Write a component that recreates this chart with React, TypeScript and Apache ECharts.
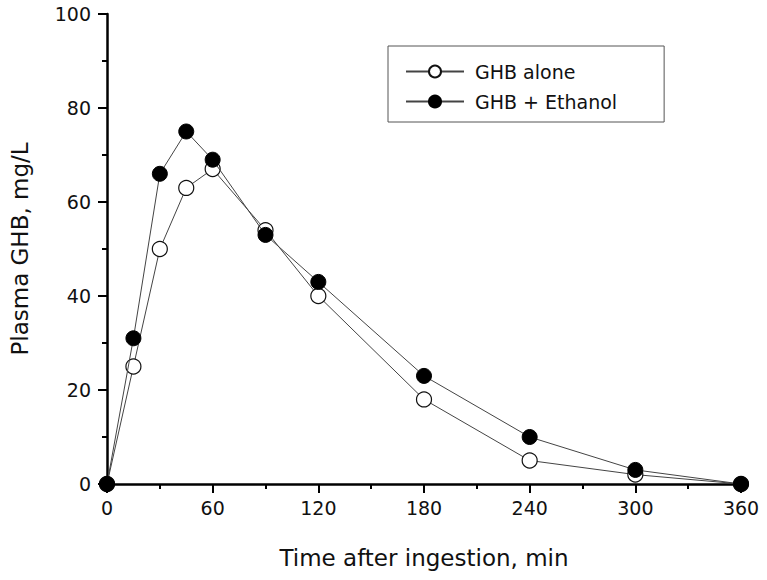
import React, { useEffect, useRef } from "react";
import * as echarts from "echarts";

const times = [0, 15, 30, 45, 60, 90, 120, 180, 240, 300, 360];
const ghbAlone = [0, 25, 50, 63, 67, 54, 40, 18, 5, 2, 0];
const ghbEthanol = [0, 31, 66, 75, 69, 53, 43, 23, 10, 3, 0];
const seriesNames = ["GHB alone", "GHB + Ethanol"];

const FONT = "'DejaVu Sans', sans-serif";

export default function App() {
  const ref = useRef<HTMLDivElement>(null);
  useEffect(() => {
    if (!ref.current) return;
    const chart = echarts.init(ref.current, undefined, { renderer: "svg" });
    const axisCommon = {
      axisLine: { show: true, lineStyle: { color: "#000", width: 2.5 } },
      axisTick: { show: true, inside: false, length: 9, lineStyle: { color: "#000", width: 2 } },
      minorTick: { show: true, splitNumber: 2, length: 5, lineStyle: { color: "#000", width: 2 } },
      splitLine: { show: false },
    };
    chart.setOption({
      animation: false,
      backgroundColor: "#fff",
      grid: { left: 107, right: 26, top: 14, bottom: 96, containLabel: false },
      legend: {
        left: 388,
        top: 46,
        orient: "vertical",
        itemWidth: 58,
        itemHeight: 15,
        itemGap: 11,
        padding: [16, 47, 11, 17],
        borderColor: "#555",
        borderWidth: 1,
        textStyle: { fontFamily: FONT, fontSize: 19, color: "#111", padding: [0, 0, 0, 6] },
        data: seriesNames,
      },
      xAxis: {
        type: "value",
        min: 0,
        max: 360,
        interval: 60,
        ...axisCommon,
        axisLabel: { fontFamily: FONT, fontSize: 19, color: "#111", margin: 14 },
        name: "Time after ingestion, min",
        nameLocation: "middle",
        nameGap: 62,
        nameTextStyle: { fontFamily: FONT, fontSize: 23, color: "#111" },
      },
      yAxis: {
        type: "value",
        min: 0,
        max: 100,
        interval: 20,
        ...axisCommon,
        axisLabel: { fontFamily: FONT, fontSize: 19, color: "#111", margin: 16 },
        name: "Plasma GHB, mg/L",
        nameLocation: "middle",
        nameGap: 76,
        nameTextStyle: { fontFamily: FONT, fontSize: 23, color: "#111" },
      },
      series: [
        {
          name: seriesNames[0],
          type: "line",
          data: times.map((t, i) => [t, ghbAlone[i]]),
          symbol: "circle",
          symbolSize: 15,
          lineStyle: { color: "#444", width: 1 },
          itemStyle: { color: "#fff", borderColor: "#111", borderWidth: 1.2 },
          z: 2,
        },
        {
          name: seriesNames[1],
          type: "line",
          data: times.map((t, i) => [t, ghbEthanol[i]]),
          symbol: "circle",
          symbolSize: 15,
          lineStyle: { color: "#444", width: 1 },
          itemStyle: { color: "#000", borderColor: "#000", borderWidth: 1 },
          z: 3,
        },
      ],
    });
    return () => chart.dispose();
  }, []);
  return <div ref={ref} style={{ width: 767, height: 580, position: "absolute", left: 0, top: 0 }} />;
}
